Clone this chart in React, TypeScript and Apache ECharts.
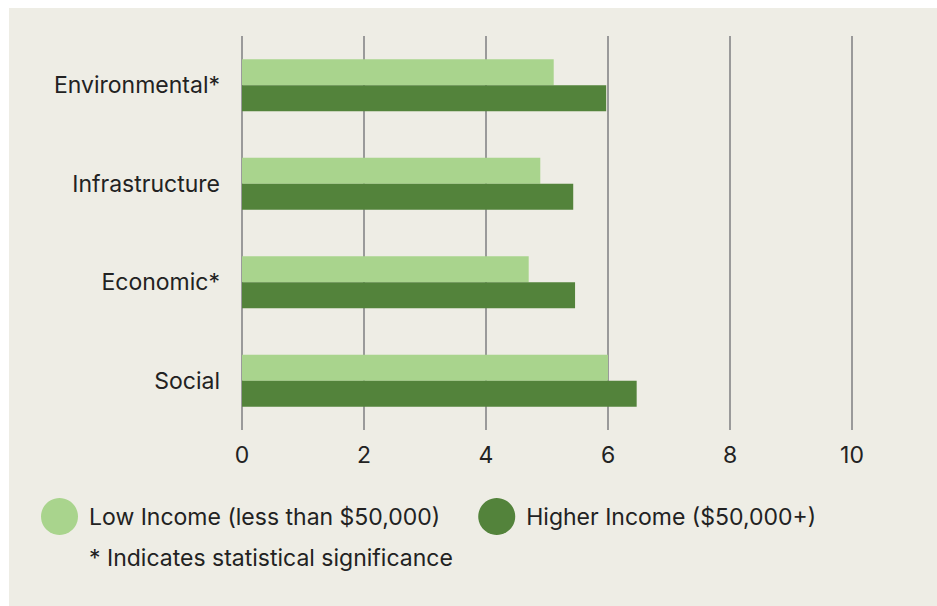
import React, { useEffect, useRef } from "react";
import * as echarts from "echarts";

const categories = ["Environmental*", "Infrastructure", "Economic*", "Social"];
const lowIncome = [5.11, 4.89, 4.7, 6.0];
const higherIncome = [5.97, 5.43, 5.46, 6.47];
const seriesNames = ["Low Income (less than $50,000)", "Higher Income ($50,000+)"];
const xTicks = [0, 2, 4, 6, 8, 10];
const footnote = "* Indicates statistical significance";

const FONT = "Inter";
const TEXT = "#222222";

export default function App() {
  const ref = useRef<HTMLDivElement>(null);
  useEffect(() => {
    if (!ref.current) return;
    const chart = echarts.init(ref.current, undefined, { renderer: "svg" });
    chart.setOption({
      animation: false,
      backgroundColor: "#eeede5",
      textStyle: { fontFamily: FONT },
      grid: { left: 233, top: 28, width: 610, height: 394, containLabel: false },
      legend: {
        left: 32,
        top: 490,
        padding: 0,
        icon: "circle",
        itemWidth: 37,
        itemHeight: 37,
        itemGap: 38,
        selectedMode: false,
        textStyle: { fontFamily: FONT, fontSize: 23, color: TEXT, padding: [0, 0, 0, 6] },
        data: seriesNames,
      },
      xAxis: {
        type: "value",
        min: xTicks[0],
        max: xTicks[xTicks.length - 1],
        interval: 2,
        axisLine: { show: false },
        axisTick: { show: false },
        axisLabel: { fontFamily: FONT, fontSize: 23, color: TEXT, margin: 13 },
        splitLine: { show: true, lineStyle: { color: "#9a9a9a", width: 2 } },
      },
      yAxis: {
        type: "category",
        data: categories,
        inverse: true,
        axisLine: { show: false },
        axisTick: { show: false },
        axisLabel: { fontFamily: FONT, fontSize: 23, color: TEXT, margin: 22 },
      },
      series: [
        {
          name: seriesNames[0],
          type: "bar",
          data: lowIncome,
          barWidth: 26,
          barGap: "0%",
          itemStyle: { color: "#a9d48d" },
        },
        {
          name: seriesNames[1],
          type: "bar",
          data: higherIncome,
          barWidth: 26,
          barGap: "0%",
          itemStyle: { color: "#53833b" },
        },
      ],
      graphic: [
        {
          type: "text",
          left: 80,
          top: 538,
          style: { text: footnote, fontFamily: FONT, fontSize: 23, fill: TEXT },
        },
      ],
    });
    return () => chart.dispose();
  }, []);
  return (
    <div
      style={{ position: "fixed", left: 9, top: 8, right: 0, bottom: 0, background: "#eeede5" }}
    >
      <div ref={ref} style={{ width: 928, height: 598 }} />
    </div>
  );
}
